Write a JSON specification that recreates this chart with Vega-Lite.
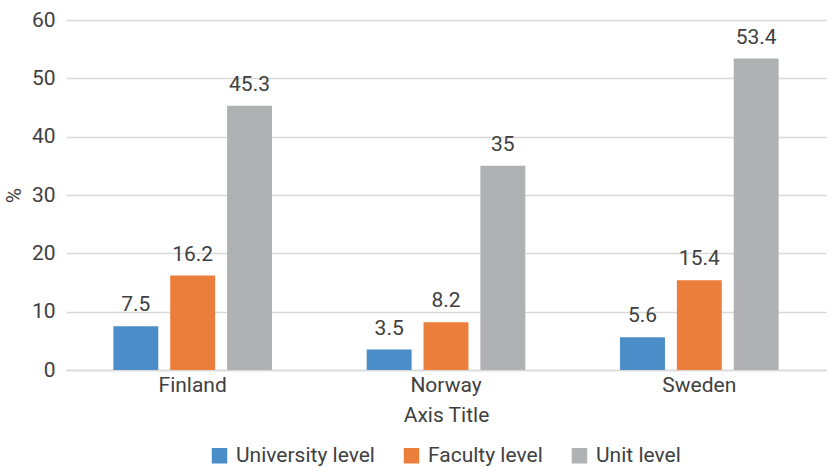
{
  "$schema": "https://vega.github.io/schema/vega-lite/v6.json",
  "width": 760,
  "height": 350,
  "autosize": {"type": "none"},
  "padding": {"left": 66, "top": 20, "right": 7, "bottom": 97},
  "background": "white",
  "config": {
    "font": "Roboto",
    "view": {"stroke": null},
    "axis": {"labelFont": "Roboto", "titleFont": "Roboto", "labelColor": "#404040", "titleColor": "#404040", "titleFontWeight": "normal"},
    "legend": {"labelFont": "Roboto", "labelColor": "#404040"}
  },
  "data": {
    "values": [
      {"country": "Finland", "level": "University level", "value": 7.5},
      {"country": "Finland", "level": "Faculty level", "value": 16.2},
      {"country": "Finland", "level": "Unit level", "value": 45.3},
      {"country": "Norway", "level": "University level", "value": 3.5},
      {"country": "Norway", "level": "Faculty level", "value": 8.2},
      {"country": "Norway", "level": "Unit level", "value": 35},
      {"country": "Sweden", "level": "University level", "value": 5.6},
      {"country": "Sweden", "level": "Faculty level", "value": 15.4},
      {"country": "Sweden", "level": "Unit level", "value": 53.4}
    ]
  },
  "encoding": {
    "x": {
      "field": "country", "type": "nominal", "sort": null,
      "scale": {"paddingInner": 0.374, "paddingOuter": 0.187},
      "axis": {"title": "Axis Title", "labelAngle": 0, "labelFontSize": 21, "titleFontSize": 21, "ticks": false, "domainColor": "#d9d9d9", "domainWidth": 1.5, "labelPadding": 4, "titlePadding": 9}
    },
    "xOffset": {
      "field": "level", "type": "nominal", "sort": ["University level", "Faculty level", "Unit level"],
      "scale": {"paddingInner": 0.21, "paddingOuter": 0}
    },
    "y": {
      "field": "value", "type": "quantitative",
      "scale": {"domain": [0, 60], "nice": false},
      "axis": {"title": "%", "values": [0, 10, 20, 30, 40, 50, 60], "labelOverlap": false, "labelFontSize": 21, "titleFontSize": 21, "ticks": false, "domain": false, "gridColor": "#d9d9d9", "gridWidth": 1.5, "labelPadding": 11, "titlePadding": 7}
    }
  },
  "layer": [
    {
      "mark": {"type": "bar"},
      "encoding": {
        "color": {
          "field": "level", "type": "nominal",
          "sort": ["University level", "Faculty level", "Unit level"],
          "scale": {"domain": ["University level", "Faculty level", "Unit level"], "range": ["#4a8dc8", "#ec7e3b", "#b0b1b3"]},
          "legend": {"title": null, "orient": "none", "legendX": 143, "legendY": 425, "direction": "horizontal", "symbolType": "square", "symbolSize": 240, "symbolStrokeWidth": 0, "labelFontSize": 21, "columnPadding": 26, "labelOffset": 6}
        }
      }
    },
    {
      "mark": {"type": "text", "baseline": "bottom", "dy": -11, "fontSize": 21, "color": "#404040"},
      "encoding": {"text": {"field": "value", "type": "quantitative"}}
    }
  ]
}
